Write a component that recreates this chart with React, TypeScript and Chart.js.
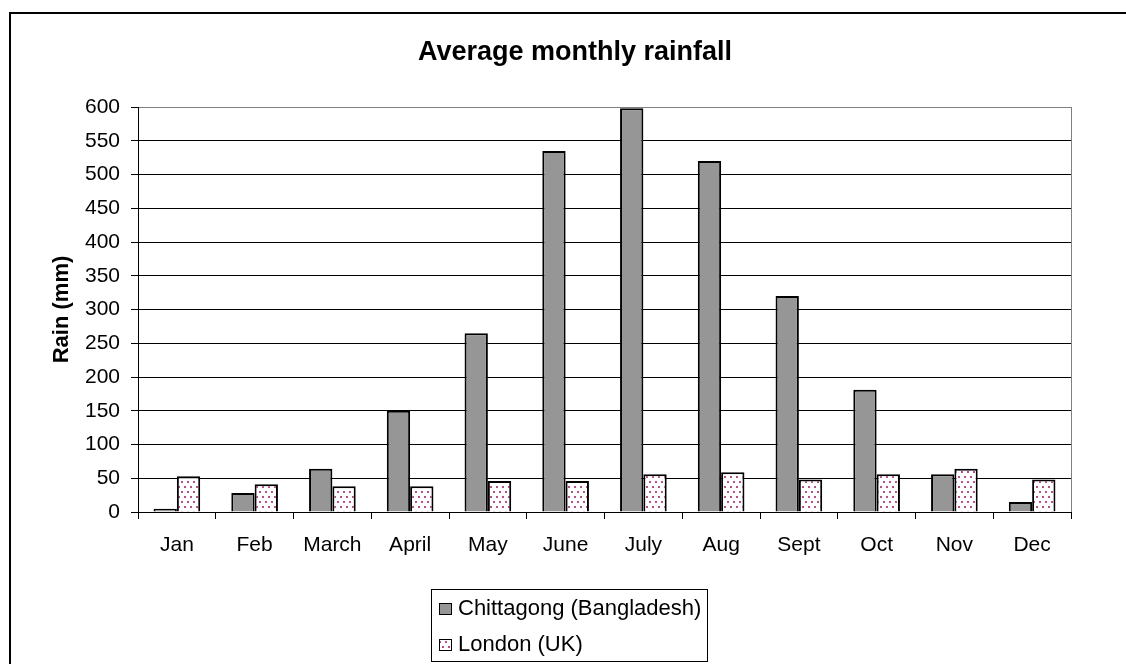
import React, { useEffect, useRef } from "react";
import { Chart, registerables } from "chart.js";

Chart.register(...registerables);

const chartTitle = "Average monthly rainfall";
const yAxisTitle = "Rain (mm)";
const categories = ["Jan", "Feb", "March", "April", "May", "June", "July", "Aug", "Sept", "Oct", "Nov", "Dec"];
const seriesNames = ["Chittagong (Bangladesh)", "London (UK)"];
const chittagong = [5, 28, 64, 150, 265, 535, 598, 520, 320, 181, 56, 15];
const london = [53, 41, 38, 38, 46, 46, 56, 59, 48, 56, 64, 48];
const yMin = 0;
const yMax = 600;
const yStep = 50;

const FONT = '"Liberation Sans", Arial, Helvetica, sans-serif';

function makeDots(): CanvasPattern | string {
  const c = document.createElement("canvas");
  c.width = 6;
  c.height = 10;
  const g = c.getContext("2d");
  if (!g) return "#ffffff";
  g.fillStyle = "#ffffff";
  g.fillRect(0, 0, 6, 10);
  g.fillStyle = "#b8508c";
  g.fillRect(1, 1, 2, 2);
  g.fillRect(4, 6, 2, 2);
  return g.createPattern(c, "repeat") || "#ffffff";
}

const decorPlugin = {
  id: "decor",
  beforeDatasetsDraw(chart: any) {
    const { ctx, chartArea } = chart;
    ctx.save();
    ctx.strokeStyle = "#808080";
    ctx.lineWidth = 1;
    ctx.beginPath();
    ctx.moveTo(Math.round(chartArea.right) + 0.5, chartArea.top);
    ctx.lineTo(Math.round(chartArea.right) + 0.5, chartArea.bottom);
    ctx.stroke();
    ctx.restore();
  },
  afterDraw(chart: any) {
    const { ctx } = chart;
    ctx.save();
    // title
    ctx.fillStyle = "#000";
    ctx.font = `bold 27px ${FONT}`;
    ctx.textAlign = "center";
    ctx.textBaseline = "alphabetic";
    ctx.fillText(chartTitle, 575, 60);
    // legend
    ctx.strokeStyle = "#000";
    ctx.lineWidth = 1;
    ctx.strokeRect(431.5, 589.5, 276, 72);
    ctx.font = `22px ${FONT}`;
    ctx.textAlign = "left";
    ctx.textBaseline = "middle";
    const ds = chart.data.datasets;
    const rows = [609, 645];
    ds.forEach((d: any, i: number) => {
      const y = rows[i];
      ctx.fillStyle = d.backgroundColor;
      ctx.fillRect(440, y - 5.5, 12, 11);
      ctx.strokeStyle = "#000";
      ctx.lineWidth = 1;
      ctx.strokeRect(439.5, y - 5.5, 12, 11);
      ctx.fillStyle = "#000";
      ctx.fillText(d.label, 458, y);
    });
    ctx.restore();
  },
};

export default function App() {
  const ref = useRef<HTMLCanvasElement | null>(null);

  useEffect(() => {
    if (!ref.current) return;
    const dots = makeDots();
    const chart = new Chart(ref.current, {
      type: "bar",
      data: {
        labels: categories,
        datasets: [
          {
            label: seriesNames[0],
            data: chittagong,
            backgroundColor: "#969696",
            borderColor: "#000",
            borderWidth: 2,
            categoryPercentage: 0.6,
            barPercentage: 1.0,
          },
          {
            label: seriesNames[1],
            data: london,
            backgroundColor: dots as any,
            borderColor: "#000",
            borderWidth: 2,
            categoryPercentage: 0.6,
            barPercentage: 1.0,
          },
        ],
      },
      options: {
        responsive: false,
        animation: false,
        devicePixelRatio: 1,
        layout: { padding: { left: 40, right: 55, top: 107, bottom: 102 } },
        plugins: {
          legend: { display: false },
          title: { display: false },
          tooltip: { enabled: false },
        },
        scales: {
          x: {
            afterFit: (s: any) => {
              s.height = 50;
            },
            grid: {
              display: true,
              drawOnChartArea: false,
              drawTicks: true,
              tickLength: 7,
              color: "#000",
              offset: true,
            },
            border: { display: true, color: "#000", width: 1 },
            ticks: {
              color: "#000",
              font: { family: FONT, size: 21 },
              padding: 14,
              maxRotation: 0,
            },
          },
          y: {
            min: yMin,
            max: yMax,
            afterFit: (s: any) => {
              s.width = 98;
            },
            grid: {
              color: (c: any) => (c.tick && c.tick.value === yMax ? "#808080" : "#000"),
              tickColor: "#000",
              tickLength: 7,
              lineWidth: 1,
            },
            border: { display: true, color: "#000", width: 1 },
            ticks: {
              stepSize: yStep,
              color: "#000",
              padding: 11,
              font: { family: FONT, size: 21 },
            },
            title: {
              display: true,
              text: yAxisTitle,
              color: "#000",
              font: { family: FONT, size: 22, weight: "bold" },
              padding: { top: 9, bottom: 0 },
            },
          },
        },
      },
      plugins: [decorPlugin],
    });
    return () => chart.destroy();
  }, []);

  return (
    <div
      style={{
        position: "fixed",
        left: 0,
        top: 0,
        width: 1126,
        height: 664,
        overflow: "hidden",
        background: "#fff",
      }}
    >
      <div
        style={{
          position: "absolute",
          left: 9,
          top: 12,
          width: 1140,
          height: 700,
          border: "2px solid #000",
          boxSizing: "border-box",
        }}
      />
      <canvas
        ref={ref}
        width={1126}
        height={664}
        style={{ position: "absolute", left: 0, top: 0, width: 1126, height: 664 }}
      />
    </div>
  );
}
